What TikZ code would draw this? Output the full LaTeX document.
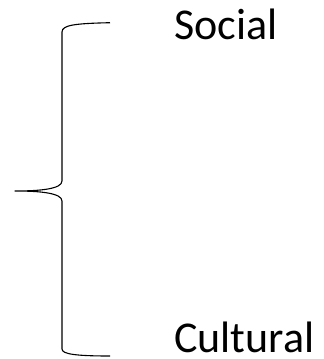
\documentclass[tikz,border=0pt]{standalone}
\usepackage{fontspec}
\setmainfont{Carlito}
\begin{document}
\begin{tikzpicture}[x=1pt,y=-1pt,
  bracepath/.style={draw=black,line width=1.1pt,line join=round},
  lbl/.style={anchor=base west,inner sep=0pt,text depth=0pt,font=\fontsize{44}{50}\selectfont}]
\useasboundingbox (0,0) rectangle (324,359);
\coordinate (top) at (110,22.7);
\coordinate (tip) at (15,191);
\coordinate (bot) at (110,356);
\draw[bracepath] (top) .. controls (75,23.5) and (62,25) .. (62,32)
  -- (62,181) .. controls (62,189) and (40,191) .. (tip)
  .. controls (40,191) and (62,193) .. (62,201)
  -- (62,349) .. controls (62,354) and (75,356) .. (bot);
\node[lbl] (social) at (174,39) {Social};
\node[lbl] (cultural) at (174,352) {Cultural};
\end{tikzpicture}
\end{document}
